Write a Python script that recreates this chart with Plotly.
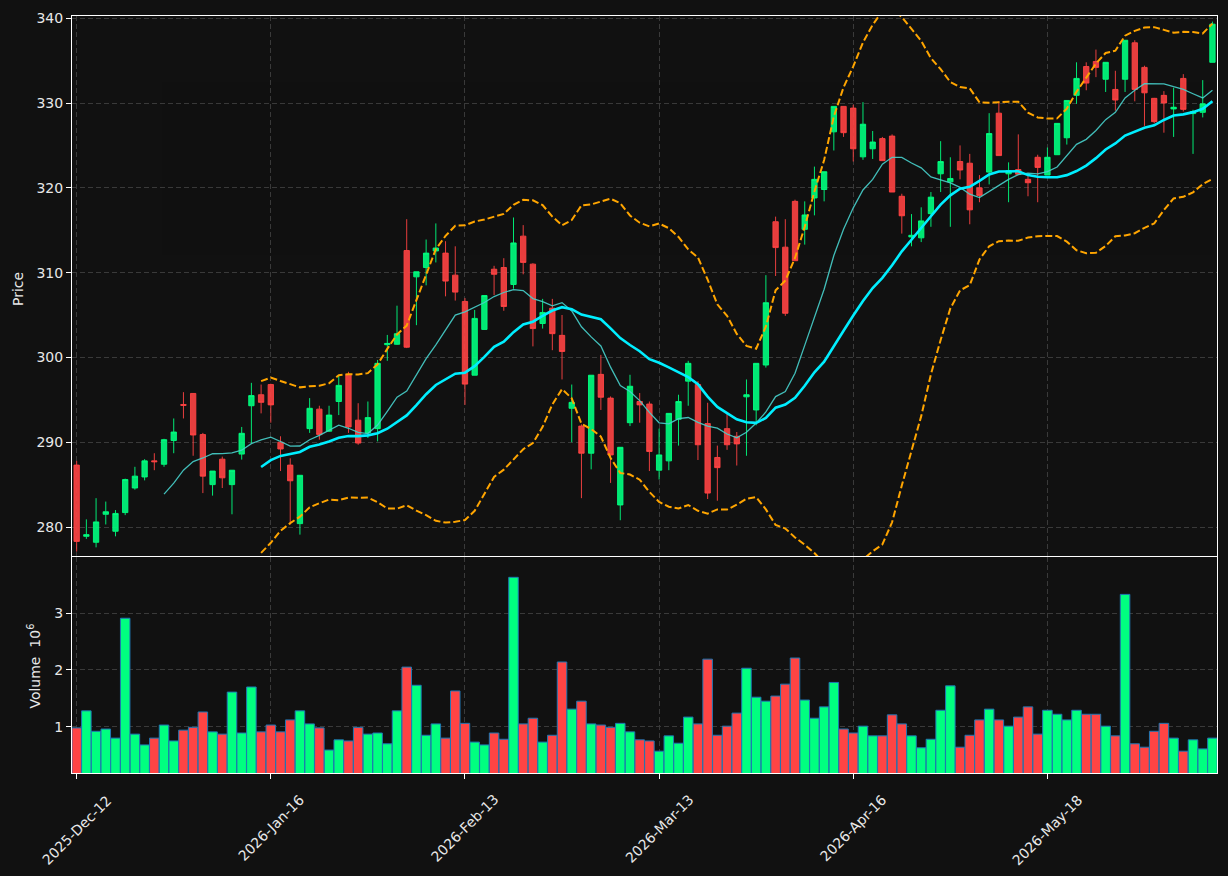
import plotly.graph_objects as go
import pandas as pd

tick_index = [0, 20, 40, 60, 80, 100]
tick_labels = ["2025-Dec-12", "2026-Jan-16", "2026-Feb-13", "2026-Mar-13", "2026-Apr-16", "2026-May-18"]

opens = [287.3, 278.9, 278.2, 281.5, 279.5, 281.7, 284.6, 285.9, 287.8, 287.4,
         290.2, 294.45, 295.75, 290.9, 285.0, 288.0, 285.0, 288.6, 294.3, 295.6,
         296.8, 290.0, 287.3, 280.4, 291.6, 293.9, 291.3, 294.8, 298.0, 292.6,
         291.1, 291.6, 301.5, 301.55, 312.6, 309.5, 310.6, 312.55, 312.3, 309.7,
         306.6, 297.9, 303.3, 310.4, 310.6, 308.6, 314.3, 311.0, 304.0, 305.8,
         302.6, 294.0, 291.9, 288.7, 298.0, 295.2, 282.6, 292.3, 294.8, 294.5,
         286.7, 287.8, 292.7, 297.2, 296.8, 292.2, 288.2, 291.6, 290.7, 295.35,
         293.8, 299.1, 316.0, 313.0, 318.4, 315.1, 318.8, 319.8, 326.6, 329.6,
         329.4, 323.65, 324.6, 325.8, 326.1, 319.0, 314.2, 314.1, 316.95, 321.65,
         320.7, 323.1, 322.9, 320.0, 321.85, 328.8, 321.65, 322.15, 321.0, 323.6,
         321.5, 323.9, 325.9, 330.9, 334.3, 334.9, 332.8, 331.6, 332.8, 337.1,
         334.2, 330.55, 330.9, 329.3, 332.9, 328.75, 328.9, 334.8]
highs = [287.8, 280.9, 283.4, 283.0, 282.0, 285.7, 287.1, 288.0, 288.7, 290.4,
         292.8, 295.9, 295.8, 291.1, 286.6, 288.3, 286.7, 291.8, 297.0, 296.8,
         296.9, 290.7, 288.1, 286.1, 295.2, 294.3, 294.3, 297.9, 298.3, 294.6,
         294.8, 299.7, 302.65, 306.1, 316.3, 310.1, 313.9, 315.8, 313.7, 313.1,
         307.0, 305.6, 307.3, 310.8, 311.7, 316.5, 315.6, 311.1, 306.9, 306.9,
         305.0, 296.8, 292.1, 297.9, 300.3, 295.4, 289.4, 297.95, 295.8, 294.8,
         291.6, 293.4, 295.6, 299.6, 297.2, 294.65, 289.6, 293.4, 291.2, 297.4,
         299.3, 309.7, 316.6, 316.3, 318.6, 318.4, 322.5, 321.9, 329.6, 329.6,
         329.8, 330.1, 326.7, 326.0, 326.3, 319.3, 316.9, 317.7, 319.5, 325.5,
         323.6, 325.0, 324.0, 321.5, 328.8, 330.2, 323.0, 326.3, 321.5, 323.9,
         324.75, 327.6, 330.3, 334.8, 334.8, 336.3, 334.8, 333.8, 337.4, 337.4,
         334.4, 330.6, 331.4, 331.8, 333.4, 329.2, 332.7, 339.6]
lows = [277.1, 278.6, 277.6, 280.3, 278.9, 281.4, 284.4, 285.5, 286.7, 287.1,
        288.7, 292.8, 288.4, 284.0, 283.7, 284.6, 281.5, 287.95, 289.9, 293.4,
        292.3, 286.6, 280.3, 279.1, 291.1, 290.3, 291.2, 293.2, 291.1, 289.7,
        290.5, 290.1, 299.6, 301.5, 301.1, 303.8, 308.5, 311.2, 307.2, 306.7,
        294.4, 297.9, 303.3, 307.35, 305.5, 308.1, 309.8, 301.3, 303.4, 300.85,
        297.4, 290.0, 283.4, 286.8, 293.8, 285.2, 280.8, 291.9, 292.3, 286.6,
        285.6, 286.7, 289.6, 294.3, 287.9, 283.3, 283.1, 289.1, 287.25, 288.4,
        292.0, 298.8, 309.6, 304.9, 311.4, 313.3, 316.75, 318.4, 324.4, 326.0,
        323.1, 323.3, 323.4, 323.2, 319.5, 314.6, 313.1, 313.6, 315.4, 319.5,
        315.4, 321.0, 315.7, 318.3, 320.4, 323.8, 318.3, 321.5, 319.0, 318.3,
        321.5, 323.9, 325.1, 329.9, 331.5, 333.05, 331.3, 329.1, 331.3, 330.2,
        327.3, 327.6, 326.5, 326.0, 329.0, 324.0, 328.3, 334.8]
closes = [278.3, 279.1, 280.6, 281.8, 281.6, 285.6, 286.0, 287.8, 287.7, 290.3,
          291.2, 294.35, 290.85, 286.0, 286.6, 285.8, 286.7, 291.05, 295.5, 294.7,
          294.4, 289.2, 285.45, 286.1, 294.0, 290.9, 293.2, 296.7, 291.8, 289.9,
          292.9, 299.3, 301.65, 302.8, 301.2, 310.1, 312.3, 312.9, 309.0, 307.7,
          296.85, 304.6, 307.3, 309.8, 306.0, 313.5, 311.2, 303.4, 305.3, 302.8,
          300.7, 294.7, 288.7, 297.9, 295.3, 288.5, 289.4, 296.6, 294.4, 288.9,
          288.5, 293.4, 294.8, 299.3, 289.7, 284.0, 287.0, 289.7, 289.8, 295.6,
          299.3, 306.45, 312.95, 305.2, 311.4, 316.8, 321.0, 321.9, 329.6, 326.5,
          324.6, 327.5, 325.4, 323.2, 319.5, 316.7, 314.4, 316.1, 318.9, 323.1,
          321.1, 322.1, 317.4, 319.1, 326.4, 323.8, 322.0, 321.6, 320.6, 322.4,
          323.6, 327.6, 330.3, 332.9, 332.35, 334.2, 334.8, 330.35, 337.4, 331.6,
          331.2, 327.8, 330.0, 329.5, 329.25, 329.0, 329.9, 339.3]
volumes = [980000, 1280000, 920000, 960000, 800000, 2910000, 870000, 680000, 800000, 1030000,
           750000, 940000, 990000, 1260000, 910000, 870000, 1610000, 890000, 1700000, 910000,
           1030000, 910000, 1120000, 1280000, 1050000, 980000, 590000, 770000, 750000, 990000,
           870000, 890000, 700000, 1280000, 2050000, 1730000, 850000, 1050000, 800000, 1630000,
           1060000, 730000, 680000, 890000, 780000, 3630000, 1050000, 1150000, 730000, 850000,
           2140000, 1310000, 1450000, 1050000, 1030000, 990000, 1060000, 910000, 770000, 750000,
           570000, 840000, 710000, 1170000, 1050000, 2190000, 850000, 1010000, 1240000, 2030000,
           1520000, 1450000, 1540000, 1750000, 2210000, 1470000, 1150000, 1350000, 1780000, 960000,
           890000, 1010000, 840000, 840000, 1210000, 1050000, 840000, 630000, 780000, 1290000,
           1720000, 640000, 850000, 1120000, 1310000, 1120000, 1010000, 1170000, 1350000, 870000,
           1290000, 1220000, 1120000, 1290000, 1220000, 1220000, 1010000, 840000, 3330000, 700000,
           640000, 920000, 1060000, 800000, 570000, 770000, 610000, 800000]

idx = list(range(len(closes)))
cs = pd.Series(closes)
ma10 = cs.rolling(10).mean()
ma20 = cs.rolling(20).mean()
sd20 = cs.rolling(20).std()
bb_up = ma20 + 2 * sd20
bb_lo = ma20 - 2 * sd20

UP = "#00ff80"
DOWN = "#ff4444"
UP_C = "rgba(0,255,128,0.9)"
DOWN_C = "rgba(255,68,68,0.9)"
GRID = "#3a3a3a"
TXT = "#e8e8e8"

fig = go.Figure()

vol_colors = [UP if c >= o else DOWN for o, c in zip(opens, closes)]
fig.add_trace(go.Bar(x=idx, y=volumes, width=0.98,
                     marker=dict(color=vol_colors, line=dict(color="#1f77b4", width=1)),
                     xaxis="x", yaxis="y", hoverinfo="skip"))

fig.add_trace(go.Candlestick(x=idx, open=opens, high=highs, low=lows, close=closes,
                             increasing=dict(line=dict(color=UP_C, width=1), fillcolor=UP_C),
                             decreasing=dict(line=dict(color=DOWN_C, width=1), fillcolor=DOWN_C),
                             whiskerwidth=0, xaxis="x2", yaxis="y2"))

fig.add_trace(go.Scatter(x=idx, y=ma10, mode="lines",
                         line=dict(color="#48d1cc", width=1.3), opacity=0.9,
                         xaxis="x2", yaxis="y2"))
fig.add_trace(go.Scatter(x=idx, y=ma20, mode="lines",
                         line=dict(color="#00eeff", width=2.6),
                         xaxis="x2", yaxis="y2"))
for band in (bb_up, bb_lo):
    fig.add_trace(go.Scatter(x=idx, y=band, mode="lines",
                             line=dict(color="#ffa500", width=2, dash="7px,3px"),
                             xaxis="x2", yaxis="y2"))

common_x = dict(range=[-0.48, 117.47], tickvals=tick_index, showgrid=True, gridcolor=GRID,
                griddash="5px,3px", gridwidth=1, zeroline=False, showline=True,
                linecolor="white", linewidth=1, mirror=True,
                rangeslider=dict(visible=False))
common_y = dict(showgrid=True, gridcolor=GRID, griddash="5px,3px", gridwidth=1,
                zeroline=False, showline=True, linecolor="white", linewidth=1, mirror=True,
                ticks="outside", ticklen=5, tickcolor="white",
                tickfont=dict(size=14, color=TXT))

fig.update_layout(
    width=1228, height=876,
    margin=dict(l=72, r=10, t=13, b=103),
    paper_bgcolor="#111111", plot_bgcolor="#111111",
    showlegend=False, boxgap=0.45, boxgroupgap=0,
    font=dict(family="DejaVu Sans", size=14, color=TXT),
    xaxis=dict(domain=[0, 1], anchor="y", showticklabels=False, ticks="outside",
               ticklen=5, tickcolor="white", **common_x),
    xaxis2=dict(domain=[0, 1], anchor="y2", matches="x", showticklabels=False, ticks="",
                **common_x),
    yaxis=dict(domain=[0, 0.2855], range=[186000, 3990000],
               tickvals=[1000000, 2000000, 3000000], ticktext=["1", "2", "3"], **common_y),
    yaxis2=dict(domain=[0.2862, 1], range=[276.54, 340.26],
                tickvals=list(range(280, 341, 10)), **common_y),
)

annotations = []
for ti, tl in zip(tick_index, tick_labels):
    annotations.append(dict(x=ti, y=-0.021, xref="x", yref="paper", text=tl,
                            textangle=-45, xanchor="center", yanchor="top",
                            showarrow=False, font=dict(size=14, color=TXT)))
annotations.append(dict(x=-0.0471, y=0.6395, xref="paper", yref="paper", text="Price",
                        textangle=-90, showarrow=False, xanchor="center", yanchor="middle",
                        font=dict(size=14, color=TXT)))
annotations.append(dict(x=-0.0335, y=0.1414, xref="paper", yref="paper",
                        text="Volume\u00a0\u00a010<sup>6</sup>",
                        textangle=-90, showarrow=False, xanchor="center", yanchor="middle",
                        font=dict(size=14, color=TXT)))
fig.update_layout(annotations=annotations)

fig.write_html("out.html")
